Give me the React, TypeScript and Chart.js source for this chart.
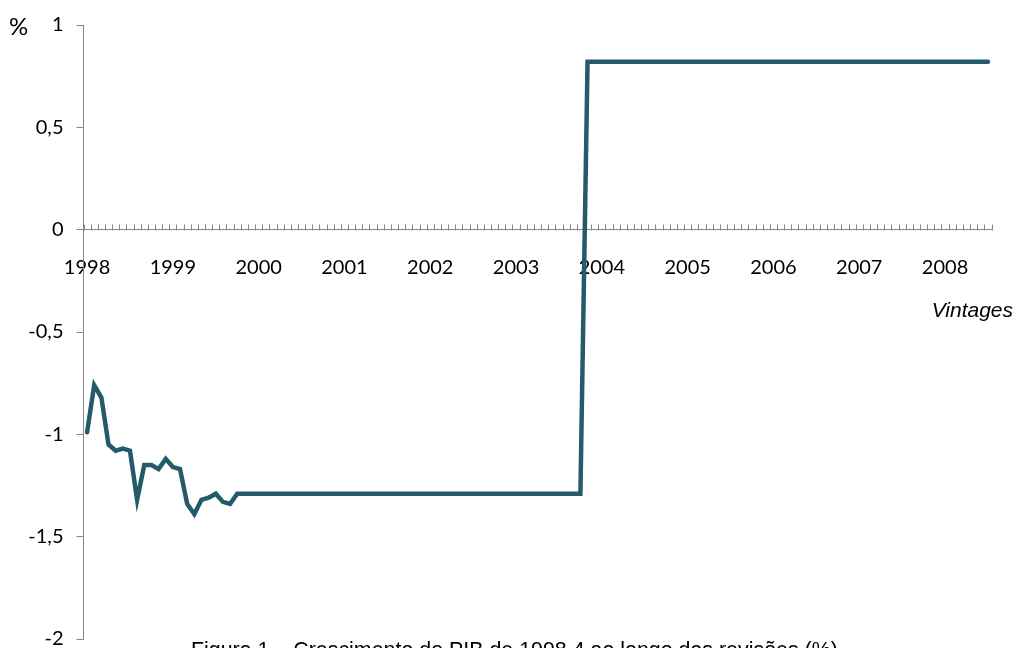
import React, { useEffect, useRef } from 'react';
import { Chart, registerables } from 'chart.js';

Chart.register(...registerables);

// Tick labels of the category (vintage) axis: one label per year
const yearLabels = ['1998', '1999', '2000', '2001', '2002', '2003', '2004', '2005', '2006', '2007', '2008'];
const monthCodes = ['01', '02', '03', '04', '05', '06', '07', '08', '09', '10', '11', '12'];
// Monthly vintages from 1998.01 to 2008.07
const vintages = yearLabels.flatMap((y) => monthCodes.map((m) => `${y}.${m}`)).slice(0, 127);

// Growth of GDP 1998.4 as estimated in each vintage (%)
const gdpGrowth = [
  -0.99, -0.76, -0.82, -1.05, -1.08, -1.07, -1.08, -1.32, -1.15, -1.15, -1.17, -1.12,
  -1.16, -1.17, -1.34, -1.39, -1.32, -1.31, -1.29, -1.33, -1.34, -1.29,
  -1.29, -1.29, -1.29, -1.29, -1.29, -1.29, -1.29, -1.29, -1.29, -1.29, -1.29, -1.29,
  -1.29, -1.29, -1.29, -1.29, -1.29, -1.29, -1.29, -1.29, -1.29, -1.29, -1.29, -1.29,
  -1.29, -1.29, -1.29, -1.29, -1.29, -1.29, -1.29, -1.29, -1.29, -1.29, -1.29, -1.29,
  -1.29, -1.29, -1.29, -1.29, -1.29, -1.29, -1.29, -1.29, -1.29, -1.29, -1.29, -1.29,
  0.82, 0.82, 0.82, 0.82, 0.82, 0.82, 0.82, 0.82, 0.82, 0.82, 0.82, 0.82,
  0.82, 0.82, 0.82, 0.82, 0.82, 0.82, 0.82, 0.82, 0.82, 0.82, 0.82, 0.82,
  0.82, 0.82, 0.82, 0.82, 0.82, 0.82, 0.82, 0.82, 0.82, 0.82, 0.82, 0.82,
  0.82, 0.82, 0.82, 0.82, 0.82, 0.82, 0.82, 0.82, 0.82, 0.82, 0.82, 0.82,
  0.82, 0.82, 0.82, 0.82, 0.82, 0.82, 0.82, 0.82, 0.82,
];

const yUnitLabel = '%';
const xAxisTitle = 'Vintages';
const captionText = 'Figura 1 – Crescimento do PIB de 1998.4 ao longo das revisões (%)';

const AXIS_GRAY = '#868686';
const LINE_COLOR = '#245b6a';
const TICK_FONT = { family: 'Lato, "Open Sans", sans-serif', size: 20, lineHeight: 1.2 };

const minorTicksPlugin = {
  id: 'minorTicks',
  beforeDatasetsDraw(chart: any) {
    const xs = chart.scales.x;
    const ys = chart.scales.y;
    const ctx = chart.ctx;
    const y0 = Math.round(ys.getPixelForValue(0)) + 0.5;
    ctx.save();
    ctx.strokeStyle = AXIS_GRAY;
    ctx.lineWidth = 1;
    ctx.beginPath();
    for (let i = 0; i <= vintages.length; i++) {
      const x = Math.round(xs.getPixelForValue(i - 0.5)) + 0.5;
      ctx.moveTo(x, y0);
      ctx.lineTo(x, y0 - 6);
    }
    ctx.stroke();
    ctx.restore();
  },
};

const textPlugin = {
  id: 'extraTexts',
  afterDraw(chart: any) {
    const ctx = chart.ctx;
    ctx.save();
    ctx.fillStyle = '#000';
    ctx.textBaseline = 'alphabetic';
    ctx.font = '24px Lato, sans-serif';
    ctx.textAlign = 'left';
    ctx.fillText(yUnitLabel, 9, 35);
    ctx.font = 'italic 21px "Liberation Sans", Arial, sans-serif';
    ctx.textAlign = 'right';
    ctx.fillText(xAxisTitle, 1013, 317);
    ctx.font = '21.4px "Liberation Sans", Arial, sans-serif';
    ctx.textAlign = 'left';
    ctx.fillText(captionText, 191, 657);
    ctx.restore();
  },
};

export default function App() {
  const canvasRef = useRef<HTMLCanvasElement | null>(null);

  useEffect(() => {
    const canvas = canvasRef.current;
    if (!canvas) return;
    const chart = new Chart(canvas, {
      type: 'line',
      data: {
        labels: vintages,
        datasets: [
          {
            data: gdpGrowth,
            borderColor: LINE_COLOR,
            backgroundColor: LINE_COLOR,
            borderWidth: 4.5,
            pointRadius: 0,
            tension: 0,
            borderCapStyle: 'round',
            borderJoinStyle: 'miter',
            fill: false,
          },
        ],
      },
      options: {
        responsive: false,
        animation: false,
        events: [],
        layout: { padding: { left: 0, right: 17, top: 25, bottom: 10 } },
        plugins: {
          legend: { display: false },
          tooltip: { enabled: false },
          title: { display: false },
        },
        scales: {
          x: {
            type: 'category',
            position: { y: 0 },
            offset: true,
            grid: { display: false, drawTicks: false },
            border: { display: true, color: AXIS_GRAY, width: 1 },
            ticks: {
              autoSkip: false,
              maxRotation: 0,
              minRotation: 0,
              padding: 26,
              color: '#000',
              font: TICK_FONT,
              callback: (_v: any, index: number) => (index % 12 === 0 ? yearLabels[index / 12] : ''),
            },
          },
          y: {
            type: 'linear',
            position: 'left',
            min: -2,
            max: 1,
            afterFit: (scale: any) => {
              scale.width = 83.5;
            },
            grid: {
              display: true,
              drawOnChartArea: false,
              drawTicks: true,
              tickLength: 7,
              color: AXIS_GRAY,
            },
            border: { display: true, color: AXIS_GRAY, width: 1 },
            ticks: {
              stepSize: 0.5,
              padding: 13,
              color: '#000',
              font: TICK_FONT,
              callback: (v: any) => String(v).replace('.', ','),
            },
          },
        },
      },
      plugins: [minorTicksPlugin, textPlugin],
    } as any);
    return () => chart.destroy();
  }, []);

  return (
    <div
      style={{
        position: 'absolute',
        left: 0,
        top: 0,
        width: 1014,
        height: 648,
        overflow: 'hidden',
        background: '#fff',
      }}
    >
      <canvas ref={canvasRef} width={1014} height={664} style={{ display: 'block' }} />
    </div>
  );
}
